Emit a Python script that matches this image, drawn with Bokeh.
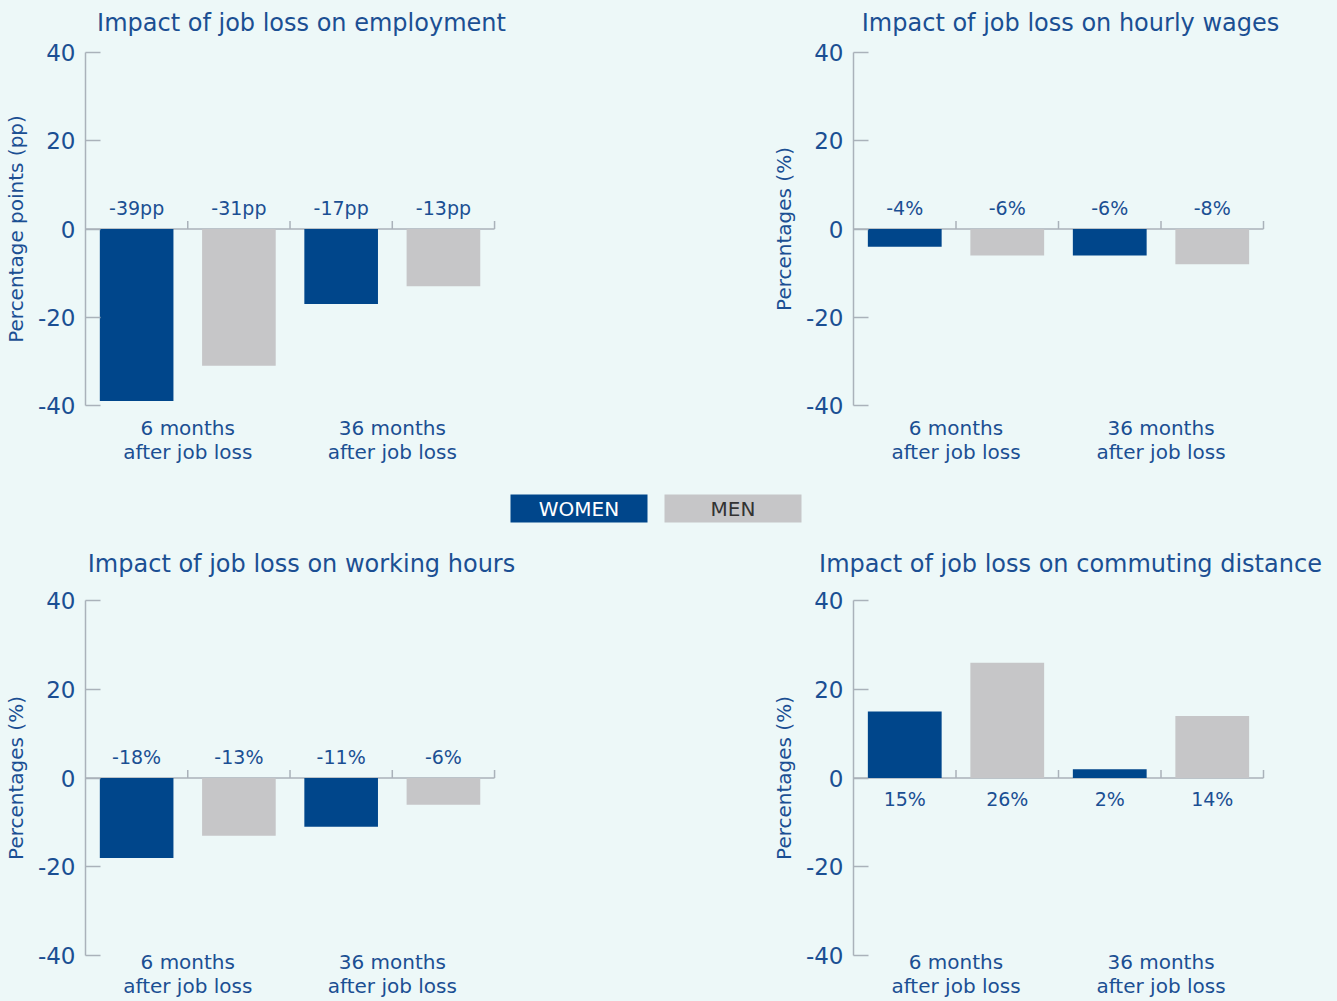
from bokeh.plotting import figure
from bokeh.models import Range1d, FixedTicker, ColumnDataSource
from bokeh.layouts import column, row
from bokeh.embed import file_html
from bokeh.resources import INLINE
from bokeh.core.properties import value

# ---------------- data ----------------
categories = ["6 months\nafter job loss", "36 months\nafter job loss"]
groups = ["WOMEN", "MEN"]

employment_women = [-39, -17]
employment_men = [-31, -13]
wages_women = [-4, -6]
wages_men = [-6, -8]
hours_women = [-18, -11]
hours_men = [-13, -6]
commuting_women = [15, 2]
commuting_men = [26, 14]

y_ticks = [-40, -20, 0, 20, 40]
y_tick_labels = ["-40", "-20", "0", "20", "40"]

titles = [
    "Impact of job loss on employment",
    "Impact of job loss on hourly wages",
    "Impact of job loss on working hours",
    "Impact of job loss on commuting distance",
]
y_labels = [
    "Percentage points (pp)",
    "Percentages (%)",
    "Percentages (%)",
    "Percentages (%)",
]
units = ["pp", "%", "%", "%"]

# ---------------- style / layout ----------------
BG = "#edf8f8"
TXT = "#1b4f93"
AX = "#aab2ba"
COLORS = {"WOMEN": "#00468b", "MEN": "#c6c6c8"}
FONT = "DejaVu Sans"

SLOT_PX = 102.5
FRAME_W = 434
W_L, W_R = 668, 669
LEFTS = [84, 185]
TOTAL_W = W_L + W_R
H_TS, H_TOP, H_MID, H_BOT = 40, 430, 115, 416


def strip(h):
    s = figure(width=TOTAL_W, height=h, x_range=Range1d(0, TOTAL_W), y_range=Range1d(h, 0),
               output_backend="svg", toolbar_location=None,
               x_axis_location=None, y_axis_location=None,
               min_border_left=0, min_border_right=0, min_border_top=0, min_border_bottom=0,
               background_fill_color=None, border_fill_color=BG)
    s.outline_line_color = None
    s.grid.visible = False
    return s


def add_titles(s, texts, y):
    xs = [LEFTS[0] + 2 * SLOT_PX + 12, W_L + LEFTS[1] + 2 * SLOT_PX + 12]
    s.text(x=xs, y=[y, y], text=texts, text_align="center", text_baseline="middle",
           text_font=value(FONT), text_font_size="24px", text_color=TXT)


def panel(ylabel, women, men, unit, w, h, left, top, frame_h, cat_standoff):
    right = w - left - FRAME_W
    bottom = h - top - frame_h
    p = figure(width=w, height=h,
               x_range=Range1d(0, FRAME_W / SLOT_PX), y_range=Range1d(y_ticks[0], y_ticks[-1]),
               output_backend="svg", toolbar_location=None,
               min_border_left=left, min_border_right=right,
               min_border_top=top, min_border_bottom=bottom,
               background_fill_color=None, border_fill_color=BG)
    p.outline_line_color = None
    p.grid.visible = False

    # bars
    xs, vals, cols = [], [], []
    for ci, _ in enumerate(categories):
        for gi, g in enumerate(groups):
            xs.append(ci * len(groups) + gi + 0.5)
            vals.append((women if g == "WOMEN" else men)[ci])
            cols.append(COLORS[g])
    labels = [f"{v}{unit}" for v in vals]
    offs = [-21 if v < 0 else 21 for v in vals]
    src = ColumnDataSource(dict(x=xs, top=vals, color=cols, label=labels, off=offs))

    n_slots = len(categories) * len(groups)
    # zero axis line + upward ticks
    px_per_unit = frame_h / (y_ticks[-1] - y_ticks[0])
    p.segment(x0=[0], y0=[0], x1=[n_slots], y1=[0], line_color=AX, line_width=1.5)
    tx = list(range(1, n_slots + 1))
    p.segment(x0=tx, y0=[0] * len(tx), x1=tx, y1=[8 / px_per_unit] * len(tx),
              line_color=AX, line_width=1.5)

    p.vbar(x="x", top="top", bottom=0, width=0.72, fill_color="color",
           line_color=None, source=src)
    p.text(x="x", y=0, text="label", y_offset="off", source=src,
           text_align="center", text_baseline="middle",
           text_font=value(FONT), text_font_size="19px", text_color=TXT)

    # y axis
    ya = p.yaxis[0]
    ya.ticker = FixedTicker(ticks=y_ticks)
    ya.major_label_overrides = {t: s for t, s in zip(y_ticks, y_tick_labels)}
    ya.axis_line_color = AX
    ya.axis_line_width = 1.5
    ya.major_tick_line_color = AX
    ya.major_tick_line_width = 1.5
    ya.major_tick_in = 15
    ya.major_tick_out = 0
    ya.minor_tick_line_color = None
    ya.major_label_text_font = FONT
    ya.major_label_text_font_size = "23px"
    ya.major_label_text_color = TXT
    ya.major_label_standoff = 10
    ya.axis_label = ylabel
    ya.axis_label_text_font = FONT
    ya.axis_label_text_font_size = "20px"
    ya.axis_label_text_font_style = "normal"
    ya.axis_label_text_color = TXT
    ya.axis_label_standoff = 7

    # x axis (category labels only)
    xa = p.xaxis[0]
    centers = [ci * len(groups) + len(groups) / 2 for ci in range(len(categories))]
    xa.ticker = FixedTicker(ticks=centers)
    xa.major_label_overrides = {c: lab for c, lab in zip(centers, categories)}
    xa.axis_line_color = None
    xa.major_tick_line_color = None
    xa.minor_tick_line_color = None
    xa.major_label_text_font = FONT
    xa.major_label_text_font_size = "20px"
    xa.major_label_text_line_height = 1.03
    xa.major_label_text_color = TXT
    xa.major_label_standoff = cat_standoff
    return p


datasets = [
    (employment_women, employment_men),
    (wages_women, wages_men),
    (hours_women, hours_men),
    (commuting_women, commuting_men),
]

figs = []
for i, (wv, mv) in enumerate(datasets):
    w = W_L if i % 2 == 0 else W_R
    left = LEFTS[i % 2]
    if i < 2:
        f = panel(y_labels[i], wv, mv, units[i], w, H_TOP, left, 12, 353, 4)
    else:
        f = panel(y_labels[i], wv, mv, units[i], w, H_BOT, left, 15, 355, -12)
    figs.append(f)

# top strip with the two upper titles
top_strip = strip(H_TS)
add_titles(top_strip, titles[:2], 22)

# middle strip: legend + the two lower titles
mid = strip(H_MID)
leg_src = ColumnDataSource(dict(
    x=[578.5, 732.5], y=[38, 38], label=groups,
    color=[COLORS[g] for g in groups], tcolor=["#ffffff", "#333333"]))
mid.rect(x="x", y="y", width=137, height=28, fill_color="color", line_color=None, source=leg_src)
mid.text(x="x", y="y", text="label", text_color="tcolor", source=leg_src,
         text_align="center", text_baseline="middle",
         text_font=value(FONT), text_font_size="20px")
add_titles(mid, titles[2:], 93)

layout = column(top_strip, row(figs[0], figs[1]), mid, row(figs[2], figs[3]))

html = file_html(layout, INLINE)
html = html.replace("</head>", f"<style>html,body{{background:{BG};}}</style></head>", 1)
open("out.html", "w").write(html)
